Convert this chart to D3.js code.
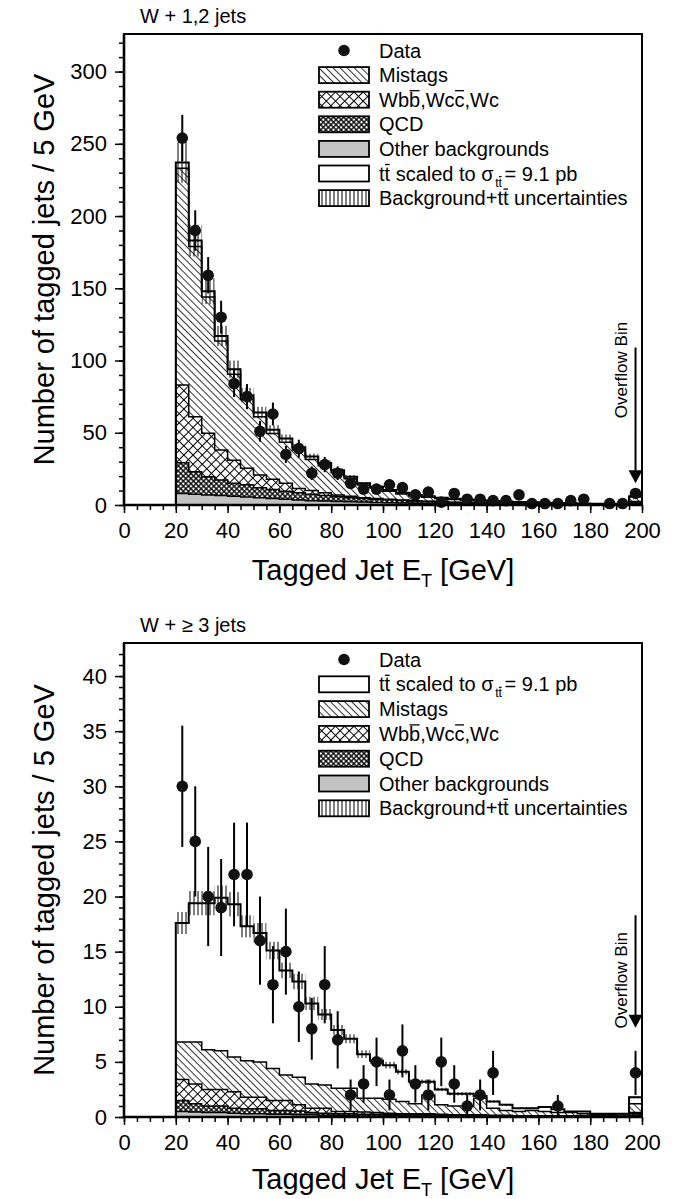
<!DOCTYPE html>
<html>
<head>
<meta charset="utf-8">
<script src="https://cdn.jsdelivr.net/npm/d3@7"></script>
<style>
body { margin: 0; background: #fff; }
text { font-family: "Liberation Sans", Arial, sans-serif; fill: #000; }
</style>
</head>
<body>
<svg id="chart" width="688" height="1199"></svg>
<script>
// tagged jet ET bins (GeV), 5 GeV wide, last one is the overflow bin
const binLow = [20,25,30,35,40,45,50,55,60,65,70,75,80,85,90,95,100,105,110,115,120,125,130,135,140,145,150,155,160,165,170,175,180,185,190,195];
const binWidth = 5;

// W + 1,2 jets
const top_other  = [8,7.5,7,6.5,6,5.5,5,4.5,4,3.5, 3,2.8,2.5,2.2,2,1.8,1.6,1.4,1.2,1, 0.9,0.8,0.7,0.6,0.5,0.5,0.4,0.4,0.3,0.3, 0.3,0.2,0.2,0.2,0.2,1];
const top_qcd    = [21.3,15.5,12.6,10.8,9,8.5,7,6.3,5.5,5, 4.5,3.7,3.3,2.8,2.5,2.2,2,1.8,1.6,1.4, 1.2,1,0.9,0.8,0.7,0.6,0.5,0.5,0.4,0.4, 0.3,0.3,0.3,0.3,0.2,1];
const top_wbb    = [53.7,38,30,20.7,16,11.4,8.8,7,5.5,3, 2.5,2,1.2,1,0.5,0.5,0.4,0.3,0.2,0.2, 0.1,0.1,0.1,0.1,0.1,0.1,0.1,0.1,0.1,0.1, 0.1,0.1,0.1,0.1,0.1,0.5];
const top_mistag = [150,118,94.4,75.5,59.5,47.6,40.2,31.7,28.5,26.5, 21.5,18.7,15.4,12.2,8.8,7.2,5.5,4.2,3.3,2.8, 2.3,1.9,1.7,1.4,1.2,0.9,0.8,0.7,0.6,0.4, 0.3,0.2,0.2,0.1,0.1,3];
const top_ttbar  = [4,4,4,3.5,3.5,3,3,2.5,2.5,2, 2,1.8,1.6,1.4,1.2,1,0.9,0.8,0.7,0.6, 0.5,0.5,0.4,0.4,0.3,0.3,0.3,0.2,0.2,0.2, 0.2,0.2,0.1,0.1,0.1,0.5];
const top_unc    = [14,11,9,7,6,5,4,3.2,2.8,2.4, 2,1.8,1.5,1.2,1,0.8,0.7,0.6,0.5,0.4, 0.3,0.3,0.3,0.2,0.2,0.2,0.2,0.1,0.1,0.1, 0.1,0.1,0.1,0.1,0.1,0.4];
const top_data   = [254,190,159,130,84,75,51,63,35,39, 22,28,22,15,11,11,14,12,7,9, 2,8,4,4,3,3,7,1,1,1, 3,4,null,1,1,8];
const top_err    = [16,14,12.6,11.4,9.2,8.7,7.1,7.9,5.9,6.2, 4.7,5.3,4.7,3.9,3.3,3.3,3.7,3.5,2.6,3, 1.4,2.8,2,2,1.7,1.7,2.6,1,1,1, 1.7,2,null,1,1,2.8];

// W + >=3 jets
const bot_other  = [0.5,0.45,0.4,0.4,0.35,0.3,0.3,0.25,0.25,0.2, 0.2,0.15,0.15,0.15,0.1,0.1,0.1,0.1,0.1,0.1, 0.08,0.08,0.08,0.06,0.06,0.06,0.05,0.05,0.05,0.04, 0.04,0.04,0.03,0.03,0.03,0.15];
const bot_qcd    = [1.0,0.75,0.6,0.6,0.45,0.45,0.45,0.35,0.35,0.35, 0.2,0.2,0.15,0.15,0.15,0.15,0.1,0.1,0.1,0.1, 0.07,0.07,0.07,0.06,0.06,0.06,0.05,0.05,0.05,0.04, 0.04,0.04,0.03,0.03,0.03,0.15];
const bot_wbb    = [1.9,1.8,1.5,1.5,1.5,1.05,1.05,0.9,0.9,0.55, 0.4,0.45,0.2,0.2,0.2,0.15,0.15,0.1,0.1,0.1, 0.1,0.05,0.05,0.08,0.03,0.03,0.02,0.02,0.02,0.02, 0.02,0.02,0.02,0.02,0.02,0.1];
const bot_mistag = [3.4,3.8,3.6,3.5,3.15,3.3,3.2,2.9,2.3,2.5, 2.2,2.1,2.1,2.1,1.25,1.3,1.25,1.1,0.9,1.7, 0.85,0.8,0.8,1.5,0.65,0.45,0.38,0.48,0.38,0.3, 0.3,0.2,0.12,0.12,0.22,0.8];
const bot_ttbar  = [10.8,12.6,13.3,13.9,13.85,12.2,11.7,10.7,9.5,8.7, 7.3,6.4,5.3,4.5,4.0,3.4,3.1,2.7,2.0,1.2, 1.4,1.1,1.1,0.2,0.6,0.5,0.3,0.2,0.4,0.3, 0.1,0.2,0.1,0.1,0,0.6];
const bot_unc    = [1.0,1.1,1.1,1.1,1.1,1.0,0.9,0.8,0.7,0.7, 0.6,0.5,0.45,0.4,0.35,0.3,0.3,0.25,0.2,0.2, 0.15,0.15,0.15,0.1,0.1,0.1,0.05,0.05,0.05,0.05, 0.05,0.05,0.05,0.05,0.05,0.1];
const bot_data   = [30,25,20,19,22,22,16,12,15,10, 8,12,7,2,3,5,2,6,3,2, 5,3,1,2,4,null,null,null,null,1, null,null,null,null,null,4];
const bot_err    = [5.5,5,4.5,4.4,4.7,4.7,4,3.5,3.9,3.2, 2.8,3.5,2.6,1.4,1.7,2.2,1.4,2.4,1.7,1.4, 2.2,1.7,1,1.4,2,null,null,null,null,1, null,null,null,null,null,2];

const xTicks = [0,20,40,60,80,100,120,140,160,180,200];
const topYTicks = [0,50,100,150,200,250,300];
const botYTicks = [0,5,10,15,20,25,30,35,40];

const svg = d3.select("#chart");
const defs = svg.append("defs");

// hatch patterns
function hatch(id, size, angle, d, sw, bg) {
  const p = defs.append("pattern").attr("id", id)
    .attr("patternUnits", "userSpaceOnUse")
    .attr("width", size).attr("height", size)
    .attr("patternTransform", "rotate(" + angle + ")");
  if (bg) p.append("rect").attr("width", size).attr("height", size).attr("fill", bg);
  p.append("path").attr("d", d).attr("stroke", "#000").attr("stroke-width", sw).attr("fill", "none");
}
hatch("mistag", 5, -45, "M2.5,0V5", 0.8, "#fff");
hatch("wbb", 6.5, 45, "M3.25,0V6.5M0,3.25H6.5", 1.05, "#fff");
hatch("qcd", 3.6, 45, "M1.8,0V3.6M0,1.8H3.6", 1.3, "#fff");
hatch("unc", 4, 0, "M2,0V4", 1, null);

const fills = { other: "#c3c3c3", qcd: "url(#qcd)", wbb: "url(#wbb)", mistag: "url(#mistag)", tt: "#fff", unc: "url(#unc)" };

// text with overlines / subscripts, overline bars drawn by hand
// seg = [text, sub?, char index where the bar starts (bar runs to the end of the seg)]
function rich(g, t, segs, baseY, fs) {
  let inSub = false;
  let idx = 0;
  const bars = [];
  segs.forEach(s => {
    const sp = t.append("tspan").text(s[0]);
    const sub = !!s[1];
    if (sub && !inSub) sp.attr("dy", 6).attr("dx", 1.5);
    if (!sub && inSub) sp.attr("dy", -6).attr("dx", 2.5);
    if (sub) sp.attr("font-size", fs * 0.62);
    if (s[2] != null) bars.push({ i: idx + s[2], j: idx + s[0].length - 1, sub: sub });
    idx += s[0].length;
    inSub = sub;
  });
  bars.forEach(b => {
    const a = t.node().getExtentOfChar(b.i);
    const e = t.node().getExtentOfChar(b.j);
    const size = b.sub ? fs * 0.62 : fs;
    const yy = baseY + (b.sub ? 6 : 0) - size * 0.8;
    g.append("line").attr("x1", a.x + 0.5).attr("x2", e.x + e.width - 0.5)
      .attr("y1", yy).attr("y2", yy).attr("stroke", "#000").attr("stroke-width", 1.3);
  });
}

const labels = {
  data: [["Data"]],
  mistag: [["Mistags"]],
  wbb: [["Wb"], ["b", false, 0], [",Wc"], ["c", false, 0], [",Wc"]],
  qcd: [["QCD"]],
  other: [["Other backgrounds"]],
  tt: [["t"], ["t", false, 0], [" scaled to σ"], ["tt", true, 1], ["= 9.1 pb"]],
  unc: [["Background+t"], ["t", false, 0], [" uncertainties"]]
};

function drawPanel(o) {
  const x = d3.scaleLinear().domain([0, 200]).range([124, 642]);
  const y = d3.scaleLinear().domain([0, o.yMax]).range([o.y0, o.yTop]);
  const g = svg.append("g");

  const rows = binLow.map((lo, i) => ({
    lo: lo, other: o.other[i], qcd: o.qcd[i], wbb: o.wbb[i], mistag: o.mistag[i], tt: o.ttbar[i]
  }));
  const series = d3.stack().keys(["other", "qcd", "wbb", "mistag", "tt"])(rows);

  const area = d3.area().curve(d3.curveStepAfter)
    .x(d => x(d.x)).y0(d => y(d.lo)).y1(d => y(d.hi));
  const line = d3.line().curve(d3.curveStepAfter)
    .x(d => x(d.x)).y(d => y(d.hi));

  function pts(s) {
    const p = s.map(d => ({ x: d.data.lo, lo: d[0], hi: d[1] }));
    const last = p[p.length - 1];
    p.push({ x: last.x + binWidth, lo: last.lo, hi: last.hi });
    return p;
  }

  series.forEach(s => {
    g.append("path").datum(pts(s)).attr("d", area).attr("fill", fills[s.key]);
  });
  series.forEach(s => {
    const p = pts(s);
    p.unshift({ x: p[0].x, hi: 0 });
    g.append("path").datum(p).attr("d", line)
      .attr("fill", "none").attr("stroke", "#000")
      .attr("stroke-width", s.key == "tt" ? 2 : 1.5);
  });

  // background + ttbar uncertainty band
  const top = series[series.length - 1];
  g.selectAll(".unc").data(top).enter().append("rect")
    .attr("x", d => x(d.data.lo))
    .attr("width", d => x(d.data.lo + binWidth) - x(d.data.lo))
    .attr("y", (d, i) => y(d[1] + o.unc[i]))
    .attr("height", (d, i) => y(Math.max(0, d[1] - o.unc[i])) - y(d[1] + o.unc[i]))
    .attr("fill", fills.unc);

  // data points
  const pd = binLow.map((lo, i) => ({ c: lo + binWidth / 2, v: o.data[i], e: o.err[i] })).filter(d => d.v != null);
  g.selectAll(".err").data(pd).enter().append("line")
    .attr("x1", d => x(d.c)).attr("x2", d => x(d.c))
    .attr("y1", d => y(d.v + d.e)).attr("y2", d => y(Math.max(0, d.v - d.e)))
    .attr("stroke", "#000").attr("stroke-width", 2);
  g.selectAll(".pt").data(pd).enter().append("circle")
    .attr("cx", d => x(d.c)).attr("cy", d => y(d.v)).attr("r", 5.8).attr("fill", "#111");

  // axes
  g.append("g").attr("transform", "translate(0," + o.y0 + ")")
    .call(d3.axisBottom(x).tickValues(xTicks).tickSize(8).tickPadding(9).tickSizeOuter(0));
  g.append("g").attr("transform", "translate(0," + o.y0 + ")")
    .call(d3.axisBottom(x).tickValues(d3.range(0, 201, 5)).tickSize(5).tickFormat("").tickSizeOuter(0));
  g.append("g").attr("transform", "translate(124,0)")
    .call(d3.axisLeft(y).tickValues(o.yTicks).tickSize(9).tickPadding(8).tickSizeOuter(0));
  g.append("g").attr("transform", "translate(124,0)")
    .call(d3.axisLeft(y).tickValues(d3.range(0, o.yMax, o.yMinor)).tickSize(5).tickFormat("").tickSizeOuter(0));
  g.selectAll(".domain").remove();
  g.selectAll(".tick line").attr("stroke", "#000").attr("stroke-width", 1.5);
  g.selectAll(".tick text").attr("font-size", 22).attr("fill", "#000")
    .style("font-family", "'Liberation Sans', Arial, sans-serif");

  // frame
  g.append("rect").attr("x", x(0)).attr("y", o.yTop)
    .attr("width", x(200) - x(0)).attr("height", o.y0 - o.yTop)
    .attr("fill", "none").attr("stroke", "#000").attr("stroke-width", 2);
  g.append("path").attr("d", "M" + x(0) + "," + o.yTop + "V" + o.y0 + "H" + x(200))
    .attr("fill", "none").attr("stroke", "#000").attr("stroke-width", 2.6);

  // overflow arrow
  const ax = x(197.5);
  g.append("line").attr("x1", ax).attr("x2", ax)
    .attr("y1", y(o.arrowTop)).attr("y2", y(o.arrowTip) - 10)
    .attr("stroke", "#000").attr("stroke-width", 2);
  g.append("path")
    .attr("d", "M" + (ax - 7) + "," + (y(o.arrowTip) - 13) + "L" + (ax + 7) + "," + (y(o.arrowTip) - 13) + "L" + ax + "," + y(o.arrowTip) + "Z")
    .attr("fill", "#000");
  g.append("text")
    .attr("transform", "translate(" + (ax - 8.5) + "," + y(o.arrowText) + ") rotate(-90)")
    .attr("text-anchor", "middle").attr("font-size", 17).text("Overflow Bin");

  // titles
  g.append("text").attr("x", 140).attr("y", o.yTop - 11).attr("font-size", 20).text(o.title);
  const xt = g.append("text").attr("x", 383).attr("y", o.y0 + o.xTitleGap)
    .attr("text-anchor", "middle").attr("font-size", 29);
  xt.append("tspan").text("Tagged Jet E");
  xt.append("tspan").text("T").attr("font-size", 18).attr("dy", 7);
  xt.append("tspan").text(" [GeV]").attr("dy", -7);
  g.append("text")
    .attr("transform", "translate(54," + (o.yTop + o.y0) / 2 + ") rotate(-90)")
    .attr("text-anchor", "middle").attr("font-size", 29)
    .text("Number of tagged jets / 5 GeV");

  // legend
  o.legend.forEach((k, i) => {
    const cy = o.legTop + i * o.legStep;
    if (k == "data") {
      g.append("circle").attr("cx", 344).attr("cy", cy).attr("r", 5.8).attr("fill", "#111");
    } else {
      g.append("rect").attr("x", 319).attr("y", cy - 8).attr("width", 50).attr("height", 16)
        .attr("fill", fills[k]).attr("stroke", "#000").attr("stroke-width", 1.8);
    }
    const t = g.append("text").attr("x", 379).attr("y", cy + 7).attr("font-size", 20);
    rich(g, t, labels[k], cy + 7, 20);
  });
}

drawPanel({
  title: "W + 1,2 jets",
  yMax: 326, y0: 505, yTop: 34, yTicks: topYTicks, yMinor: 10,
  other: top_other, qcd: top_qcd, wbb: top_wbb, mistag: top_mistag, ttbar: top_ttbar,
  unc: top_unc, data: top_data, err: top_err,
  arrowTop: 109, arrowTip: 15, arrowText: 93.4, xTitleGap: 75,
  legend: ["data", "mistag", "wbb", "qcd", "other", "tt", "unc"],
  legTop: 50.5, legStep: 24.6
});

drawPanel({
  title: "W + \u2265 3 jets",
  yMax: 43, y0: 1117, yTop: 643, yTicks: botYTicks, yMinor: 1,
  other: bot_other, qcd: bot_qcd, wbb: bot_wbb, mistag: bot_mistag, ttbar: bot_ttbar,
  unc: bot_unc, data: bot_data, err: bot_err,
  arrowTop: 18.3, arrowTip: 8.1, arrowText: 12.4, xTitleGap: 72,
  legend: ["data", "tt", "mistag", "wbb", "qcd", "other", "unc"],
  legTop: 659.5, legStep: 24.8
});
</script>
</body>
</html>
